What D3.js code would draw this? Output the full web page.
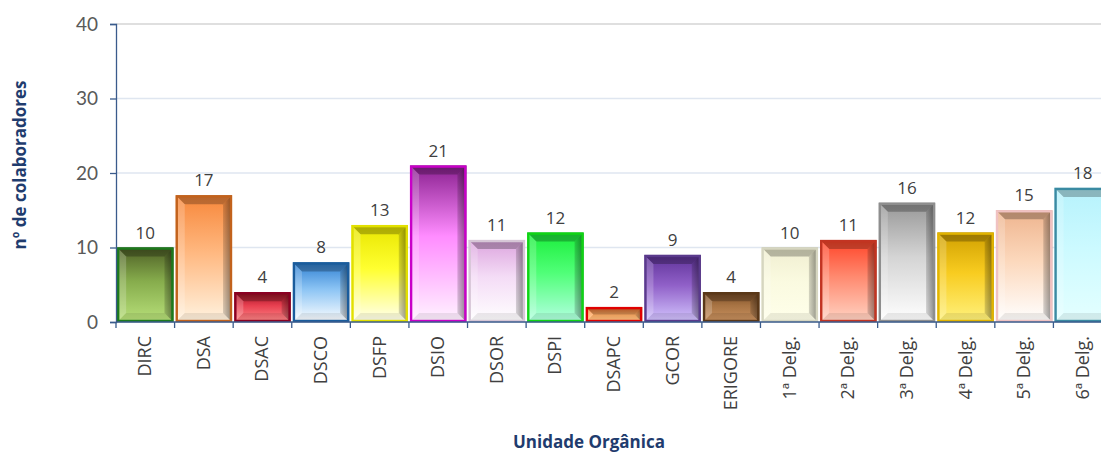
<!DOCTYPE html>
<html><head><meta charset="utf-8">
<script src="https://cdn.jsdelivr.net/npm/d3@7"></script>
<style>body{margin:0;background:#fff}svg{display:block}</style>
</head><body>
<svg id="c" width="1101" height="452"></svg>
<script>
const categories = ["DIRC","DSA","DSAC","DSCO","DSFP","DSIO","DSOR","DSPI","DSAPC","GCOR","ERIGORE","1ª Delg.","2ª Delg.","3ª Delg.","4ª Delg.","5ª Delg.","6ª Delg."];
const values = [10,17,4,8,13,21,11,12,2,9,4,10,11,16,12,15,18];
const yTicks = [0,10,20,30,40];
const yTitle = "nº de colaboradores";
const xTitle = "Unidade Orgânica";
// styles: [top colour, middle colour, bottom colour, border]
const barStyles = [
 ["#4e5f26","#86ac4c","#b8e07a","#1c7a1c"],
 ["#f7873a","#ffb880","#fff3e0","#c2621c"],
 ["#9e0e22","#e84050","#ff8a8a","#8a0022"],
 ["#2e80d2","#8cc4f4","#ffffff","#1a5c9c"],
 ["#e8e600","#ffff30","#fffff2","#e2e000"],
 ["#8a2090","#ff8cff","#fff4ff","#c800c8"],
 ["#dca4de","#f4dcf6","#ffffff","#d6c6d6"],
 ["#1aee3a","#50ff78","#b4ffe2","#10d414"],
 ["#f06a2a","#ffa860","#ffc888","#e00000"],
 ["#5e3298","#9060c8","#d4c6ff","#5a3a8c"],
 ["#7c4e26","#a87444","#cc9462","#5a3818"],
 ["#f0eed0","#fafae0","#ffffea","#d6d6c0"],
 ["#ff4428","#ff8a70","#ffd4c4","#c23422"],
 ["#979797","#d4d4d4","#ffffff","#8e8e8e"],
 ["#d0a000","#f8cc20","#fff27e","#e2b400"],
 ["#eeb48e","#fcd8bc","#ffffff","#f0c2c2"],
 ["#b6f2fc","#ccfaff","#e4ffff","#3a8aa2"]
];

const svg = d3.select("#c");
const defs = svg.append("defs");
const x = d3.scaleBand().domain(categories).range([116,1112]).paddingInner(0.04).paddingOuter(0.02);
const y = d3.scaleLinear().domain([0,40]).range([322,24]);

// gridlines
svg.append("g").selectAll("line").data(yTicks.filter(d=>d>0)).join("line")
  .attr("x1",116).attr("x2",1101).attr("y1",d=>y(d)).attr("y2",d=>y(d))
  .attr("stroke",d=>d===40?"#d4d4d4":"#dfe6f0").attr("stroke-width",1.5);

// gradients
barStyles.forEach((s,i)=>{
  const g = defs.append("linearGradient").attr("id","g"+i).attr("x1",0).attr("y1",0).attr("x2",0).attr("y2",1);
  g.append("stop").attr("offset","0%").attr("stop-color",s[0]);
  g.append("stop").attr("offset","45%").attr("stop-color",s[1]);
  g.append("stop").attr("offset","100%").attr("stop-color",s[2]);
});
const rg = defs.append("linearGradient").attr("id","rb").attr("x1",0).attr("y1",0).attr("x2",1).attr("y2",0);
rg.append("stop").attr("offset","0%").attr("stop-color","#000").attr("stop-opacity",0.15);
rg.append("stop").attr("offset","100%").attr("stop-color","#000").attr("stop-opacity",0.45);

const bars = svg.append("g").selectAll("g").data(categories).join("g");
bars.each(function(c,i){
  const gsel = d3.select(this);
  const x0 = x(c), w = x.bandwidth(), y0 = y(values[i]), h = y(0)-y(values[i]);
  gsel.append("rect").attr("x",x0).attr("y",y0).attr("width",w).attr("height",h)
    .attr("fill","url(#g"+i+")");
  const b = Math.min(9, h/2, w/2);
  const x1 = x0+w, y1 = y0+h;
  gsel.append("path").attr("d",`M${x0},${y0}L${x1},${y0}L${x1-b},${y0+b}L${x0+b},${y0+b}Z`).attr("fill","#000").attr("opacity",0.25);
  gsel.append("path").attr("d",`M${x0},${y0}L${x0+b},${y0+b}L${x0+b},${y1-b}L${x0},${y1}Z`).attr("fill","#fff").attr("opacity",0.2);
  gsel.append("path").attr("d",`M${x1},${y0}L${x1},${y1}L${x1-b},${y1-b}L${x1-b},${y0+b}Z`).attr("fill","url(#rb)");
  gsel.append("path").attr("d",`M${x0},${y1}L${x0+b},${y1-b}L${x1-b},${y1-b}L${x1},${y1}Z`).attr("fill","#000").attr("opacity",0.08);
  gsel.append("rect").attr("x",x0+1).attr("y",y0+1).attr("width",w-2).attr("height",Math.max(0,h-2))
    .attr("fill","none").attr("stroke",barStyles[i][3]).attr("stroke-width",2.4);
  gsel.append("text").attr("x",x0+w/2).attr("y",y0-9).attr("text-anchor","middle")
    .attr("font-family","Open Sans, sans-serif").attr("font-size",17).attr("fill","#404040").text(values[i]);
});

// y axis
const yAxis = svg.append("g").attr("transform","translate(116,0)")
  .call(d3.axisLeft(y).tickValues(yTicks).tickSize(6).tickPadding(12));
yAxis.select(".domain").attr("stroke","#3a5b8c").attr("stroke-width",1.3);
yAxis.selectAll(".tick line").attr("stroke","#3a5b8c").attr("stroke-width",1.3);
yAxis.selectAll(".tick text").attr("font-family","Lato, sans-serif").attr("font-size",19).attr("fill","#595959");

// x axis
svg.append("line").attr("x1",116).attr("x2",1101).attr("y1",322).attr("y2",322).attr("stroke","#3a5b8c").attr("stroke-width",1.3);
const bounds = categories.map(c=>x(c)-x.step()*x.paddingInner()/2);
svg.append("g").selectAll("line").data(bounds).join("line")
  .attr("x1",d=>d).attr("x2",d=>d).attr("y1",322).attr("y2",328).attr("stroke","#3a5b8c").attr("stroke-width",1.3);
svg.append("g").selectAll("text").data(categories).join("text")
  .attr("transform",d=>`translate(${x(d)+x.bandwidth()/2+6},336) rotate(-90)`)
  .attr("text-anchor","end").attr("font-family","Open Sans, sans-serif").attr("font-size",18).attr("fill","#404040")
  .text(d=>d);

// titles
svg.append("text").attr("transform","translate(26,165) rotate(-90)").attr("text-anchor","middle")
  .attr("font-family","Open Sans, sans-serif").attr("font-weight","bold").attr("font-size",17).attr("fill","#1f3c6e").text(yTitle);
svg.append("text").attr("x",589).attr("y",448).attr("text-anchor","middle")
  .attr("font-family","Open Sans, sans-serif").attr("font-weight","bold").attr("font-size",17).attr("fill","#1f3c6e").text(xTitle);
</script>
</body></html>
